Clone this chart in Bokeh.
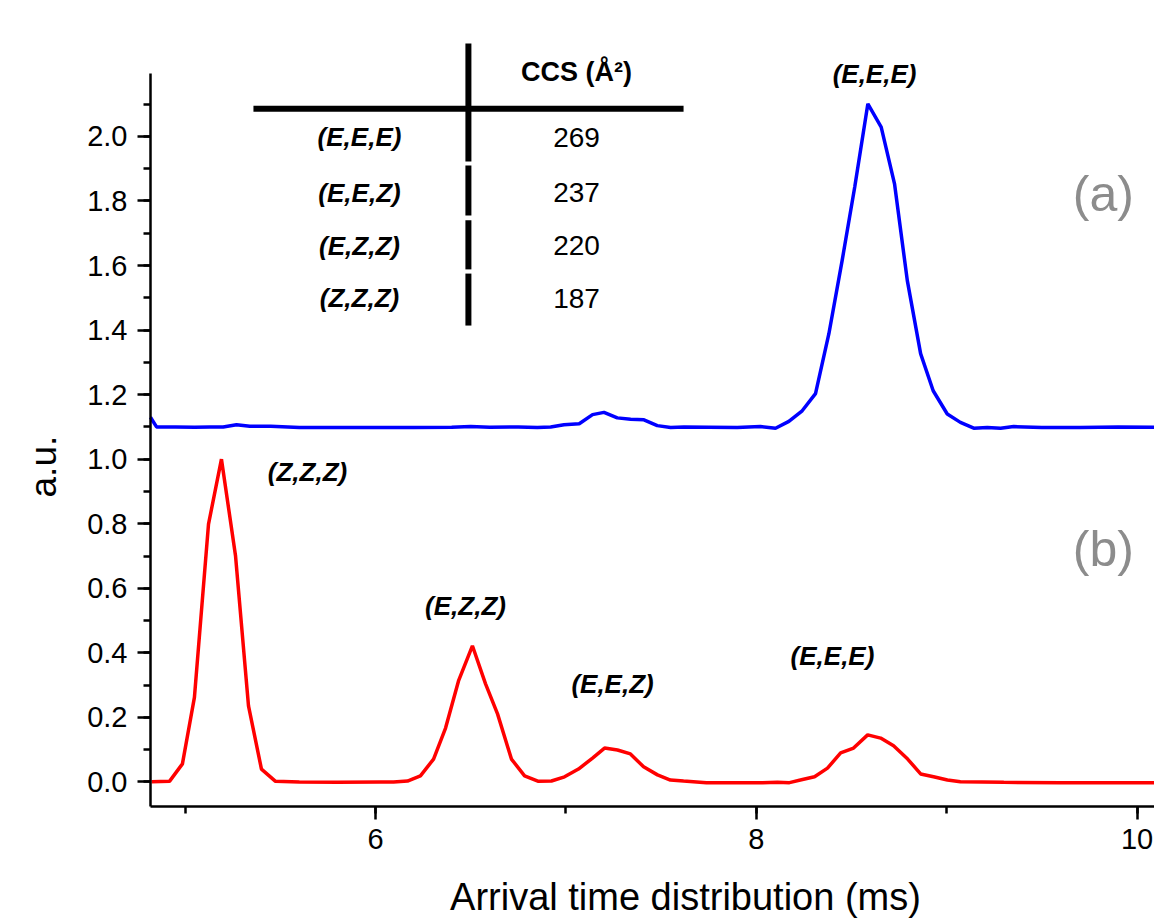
from math import pi
from bokeh.plotting import figure
from bokeh.models import Range1d, SingleIntervalTicker, ColumnDataSource, PrintfTickFormatter
from bokeh.core.properties import value
from bokeh.embed import file_html
from bokeh.resources import INLINE

FONT = "Liberation Sans"

# ---- data ----
blue_x = [4.818, 4.850, 4.95, 5.05, 5.13, 5.20, 5.27, 5.34, 5.45, 5.60, 5.80, 6.00, 6.20, 6.40,
          6.50, 6.60, 6.75, 6.85, 6.92, 6.99, 7.07, 7.14, 7.20, 7.27, 7.34, 7.41, 7.48, 7.55,
          7.62, 7.75, 7.90, 7.96, 8.022, 8.101, 8.171, 8.241, 8.311, 8.381, 8.451, 8.517,
          8.586, 8.656, 8.726, 8.793, 8.863, 8.929, 9.003, 9.072, 9.142, 9.213, 9.283, 9.352,
          9.50, 9.70, 9.90, 10.09]
blue_y = [1.130, 1.100, 1.100, 1.099, 1.100, 1.100, 1.107, 1.102, 1.102, 1.098, 1.098, 1.098,
          1.098, 1.099, 1.101, 1.099, 1.100, 1.098, 1.100, 1.107, 1.110, 1.138, 1.145, 1.128,
          1.124, 1.122, 1.104, 1.098, 1.100, 1.099, 1.098, 1.100, 1.101, 1.096, 1.117, 1.150,
          1.203, 1.388, 1.616, 1.843, 2.101, 2.029, 1.853, 1.554, 1.327, 1.212, 1.140, 1.114,
          1.096, 1.098, 1.096, 1.101, 1.098, 1.098, 1.100, 1.099]

red_x = [4.824, 4.918, 4.986, 5.049, 5.123, 5.191, 5.265, 5.333, 5.401, 5.475, 5.60, 5.80,
         6.026, 6.095, 6.168, 6.236, 6.305, 6.368, 6.436, 6.509, 6.578, 6.641, 6.714, 6.783,
         6.856, 6.924, 6.993, 7.066, 7.140, 7.203, 7.271, 7.339, 7.408, 7.481, 7.549, 7.618,
         7.738, 8.033, 8.111, 8.174, 8.237, 8.306, 8.374, 8.443, 8.511, 8.585, 8.653, 8.721,
         8.795, 8.863, 8.931, 9.004, 9.072, 9.30, 9.60, 9.90, 10.09]
red_y = [0.001, 0.002, 0.056, 0.262, 0.799, 1.000, 0.700, 0.236, 0.040, 0.002, 0.000, -0.001,
         0.000, 0.000, 0.003, 0.019, 0.071, 0.167, 0.313, 0.422, 0.304, 0.211, 0.071, 0.019,
         0.002, 0.003, 0.016, 0.040, 0.074, 0.105, 0.099, 0.087, 0.047, 0.022, 0.006, 0.003,
         -0.002, -0.002, -0.001, -0.002, 0.007, 0.016, 0.043, 0.090, 0.105, 0.146, 0.136, 0.112,
         0.071, 0.025, 0.016, 0.006, 0.001, -0.001, -0.002, -0.002, -0.002]

# inset table
table_header = "CCS (Å²)"
isomers = ["(E,E,E)", "(E,E,Z)", "(E,Z,Z)", "(Z,Z,Z)"]
ccs_values = [269, 237, 220, 187]

# peak annotations
peak_labels = ["(E,E,E)", "(Z,Z,Z)", "(E,Z,Z)", "(E,E,Z)", "(E,E,E)"]
peak_label_x = [8.621, 5.643, 6.473, 7.245, 8.400]
peak_label_y = [2.192, 0.961, 0.544, 0.305, 0.389]

panel_labels = ["(a)", "(b)"]

x_title = "Arrival time distribution (ms)"
y_title = "a.u."

X_MIN, X_MAX = 4.818, 10.0914     # visible x axis extent
Y_MIN, Y_MAX = -0.076, 2.194      # visible y axis extent

# ---- figure: the frame covers the whole canvas, axes are pinned inside it ----
p = figure(width=1154, height=919, output_backend="svg", toolbar_location=None,
           x_range=Range1d(4.0305, 10.0914), y_range=Range1d(-0.4260, 2.4210),
           min_border=0)
p.xgrid.visible = False
p.ygrid.visible = False
p.outline_line_color = None
p.background_fill_color = "white"
p.border_fill_color = "white"

p.xaxis.ticker = SingleIntervalTicker(interval=2, num_minor_ticks=2)
p.yaxis.ticker = SingleIntervalTicker(interval=0.2, num_minor_ticks=2)
p.yaxis.formatter = PrintfTickFormatter(format="%.1f")
p.xaxis.bounds = (X_MIN, X_MAX)
p.yaxis.bounds = (Y_MIN, Y_MAX)
p.xaxis.fixed_location = Y_MIN
p.yaxis.fixed_location = X_MIN
for ax in (p.xaxis[0], p.yaxis[0]):
    ax.axis_line_width = 2.5
    ax.axis_line_color = "black"
    ax.major_tick_line_width = 2.5
    ax.minor_tick_line_width = 2.5
    ax.major_tick_line_color = "black"
    ax.minor_tick_line_color = "black"
    ax.major_tick_out = 13
    ax.major_tick_in = 0
    ax.minor_tick_out = 7
    ax.minor_tick_in = 0
    ax.major_label_text_font = FONT
    ax.major_label_text_font_size = "29px"
    ax.major_label_text_color = "black"
p.yaxis.major_label_standoff = 10
p.xaxis.major_label_standoff = 9

# curves
p.line(blue_x, blue_y, line_color="#0000ff", line_width=3.5)
p.line(red_x, red_y, line_color="#ff0000", line_width=3.5)

# table lines
p.segment(x0=[5.359], y0=[2.086], x1=[7.618], y1=[2.086], line_color="black", line_width=6)
p.segment(x0=[6.488] * 4, y0=[2.288, 1.910, 1.740, 1.575], x1=[6.488] * 4,
          y1=[1.922, 1.755, 1.588, 1.414], line_color="black", line_width=6)

row_y = [1.997, 1.826, 1.662, 1.498]
tsrc = ColumnDataSource(dict(x=[5.916] * 4, y=row_y, t=isomers))
p.text(x="x", y="y", text="t", source=tsrc, text_align="center", text_baseline="middle",
       text_font=value(FONT), text_font_size="26px", text_font_style="bold italic",
       text_color="black")
vsrc = ColumnDataSource(dict(x=[7.056] * 4, y=row_y, t=[str(v) for v in ccs_values]))
p.text(x="x", y="y", text="t", source=vsrc, text_align="center", text_baseline="middle",
       text_font=value(FONT), text_font_size="28px", text_color="black")
p.text(x=[7.056], y=[2.198], text=[table_header], text_align="center", text_baseline="middle",
       text_font=value(FONT), text_font_size="27px", text_font_style="bold", text_color="black")

psrc = ColumnDataSource(dict(x=peak_label_x, y=peak_label_y, t=peak_labels))
p.text(x="x", y="y", text="t", source=psrc, text_align="center", text_baseline="middle",
       text_font=value(FONT), text_font_size="26px", text_font_style="bold italic",
       text_color="black")

p.text(x=[9.823, 9.823], y=[1.823, 0.723], text=panel_labels, text_align="center",
       text_baseline="middle", text_font=value(FONT), text_font_size="50px",
       text_color="#8c8c8c")

# axis titles
p.text(x=[7.628], y=[-0.4229], text=[x_title], text_align="center",
       text_baseline="bottom", text_font=value(FONT), text_font_size="38px",
       text_color="black")
p.text(x=[4.256], y=[0.977], text=[y_title], angle=pi / 2, text_align="center",
       text_baseline="middle", text_font=value(FONT), text_font_size="37px",
       text_color="black")

open("out.html", "w").write(file_html(p, INLINE))
